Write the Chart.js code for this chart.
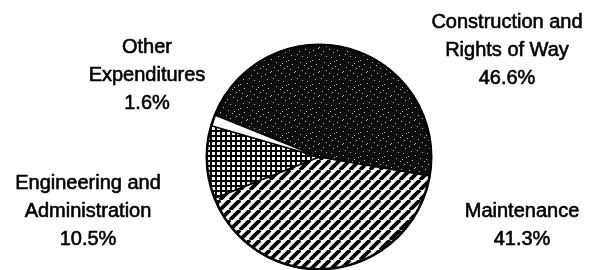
<!DOCTYPE html>
<html>
<head>
<meta charset="utf-8">
<script src="https://cdn.jsdelivr.net/npm/chart.js@4"></script>
<style>
  html, body { margin: 0; padding: 0; background: #fff; overflow: hidden; }
  #wrap { width: 589px; height: 270px; }
</style>
</head>
<body>
<div id="wrap"><canvas id="pieChart" width="589" height="270"></canvas></div>
<script>
const categories = [
  ['Construction and', 'Rights of Way'],
  'Maintenance',
  ['Engineering and', 'Administration'],
  ['Other', 'Expenditures'],
];
const shares = [46.6, 41.3, 10.5, 1.6];

// where each label block is centred (px on the canvas)
const labelAnchors = [
  [507, 22],
  [522, 211],
  [88, 183],
  [147, 47],
];

function makePattern(size, draw) {
  const c = document.createElement('canvas');
  c.width = size;
  c.height = size;
  const x = c.getContext('2d');
  draw(x, size);
  return x.createPattern(c, 'repeat');
}

// dark speckled fill, fixed scatter of light specks
const speckDots = [
  [1, 2], [6, 0], [11, 3], [17, 1], [21, 4], [3, 7], [9, 6], [14, 8],
  [19, 9], [0, 12], [7, 11], [12, 14], [22, 13], [4, 16], [16, 17], [10, 19],
  [20, 20], [2, 21], [14, 22], [7, 23], [18, 15], [23, 18],
];
const stipple = makePattern(24, (x, s) => {
  x.fillStyle = '#0d0d0d';
  x.fillRect(0, 0, s, s);
  x.fillStyle = '#bdbdbd';
  for (const [px, py] of speckDots) {
    x.fillRect(px, py, 1, 1);
  }
});

// diagonal stripes ///
const stripes = makePattern(10, (x, s) => {
  x.fillStyle = '#fff';
  x.fillRect(0, 0, s, s);
  x.strokeStyle = '#000';
  x.lineWidth = 3.8;
  for (const off of [-s, 0, s]) {
    x.beginPath();
    x.moveTo(off, s);
    x.lineTo(off + s, 0);
    x.stroke();
  }
});

// square grid
const grid = makePattern(5, (x, s) => {
  x.fillStyle = '#fff';
  x.fillRect(0, 0, s, s);
  x.fillStyle = '#000';
  x.fillRect(0, 0, s, 2);
  x.fillRect(0, 0, 2, s);
});

const outlinePlugin = {
  id: 'outline',
  afterDatasetsDraw(chart) {
    const arc = chart.getDatasetMeta(0).data[0];
    if (!arc) return;
    const ctx = chart.ctx;
    ctx.save();
    ctx.beginPath();
    ctx.arc(arc.x, arc.y, arc.outerRadius, 0, Math.PI * 2);
    ctx.lineWidth = 2.5;
    ctx.strokeStyle = '#000';
    ctx.stroke();
    ctx.restore();
  },
};

const labelPlugin = {
  id: 'sliceLabels',
  afterDraw(chart) {
    const ctx = chart.ctx;
    const lineH = 28;
    ctx.save();
    ctx.fillStyle = '#000';
    ctx.strokeStyle = '#000';
    ctx.lineWidth = 0.6;
    ctx.font = '20px "Liberation Sans", Arial, sans-serif';
    ctx.textAlign = 'center';
    ctx.textBaseline = 'middle';
    categories.forEach((cat, i) => {
      const lines = [].concat(cat, `${shares[i].toFixed(1)}%`);
      const [ax, ay] = labelAnchors[i];
      lines.forEach((t, j) => {
        ctx.fillText(t, ax, ay + j * lineH);
        ctx.strokeText(t, ax, ay + j * lineH);
      });
    });
    ctx.restore();
  },
};

new Chart(document.getElementById('pieChart'), {
  type: 'pie',
  data: {
    labels: categories.map((c) => [].concat(c).join(' ')),
    datasets: [
      {
        data: shares,
        backgroundColor: [stipple, stripes, grid, '#fff'],
        borderColor: '#000',
        borderWidth: 1.5,
      },
    ],
  },
  options: {
    responsive: false,
    animation: false,
    rotation: 292,
    layout: {
      padding: { left: 206, right: 157, top: 44, bottom: 0 },
    },
    plugins: {
      legend: { display: false },
      tooltip: { enabled: false },
    },
  },
  plugins: [outlinePlugin, labelPlugin],
});
</script>
</body>
</html>
